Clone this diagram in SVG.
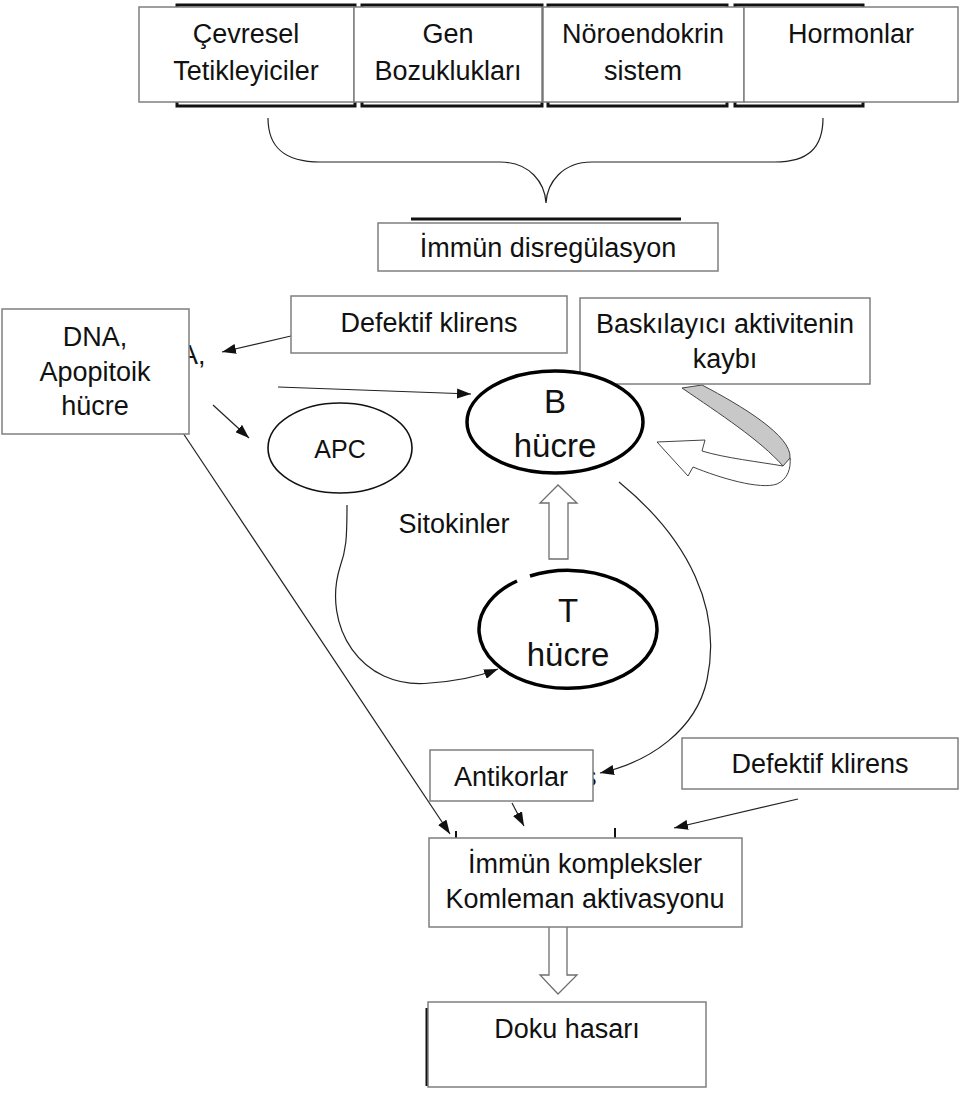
<svg xmlns="http://www.w3.org/2000/svg" width="960" height="1093" viewBox="0 0 960 1093">
<style>
.box{fill:#fff;stroke:#7f7f7f;stroke-width:1.5}
.old{fill:none;stroke:#111;stroke-width:3}
.t{font-family:"Liberation Sans",Arial,sans-serif;font-size:27px;fill:#111;text-anchor:middle}
.big{font-size:33px}
.apc{font-size:25px}
.ln{fill:none;stroke:#222;stroke-width:1.2}
.cell{fill:#fff;stroke:#000;stroke-width:3.5}
.hollow{fill:#fff;stroke:#6f6f6f;stroke-width:1.3}
</style>
<defs>
<marker id="ah" viewBox="0 0 14 10" refX="14" refY="5" markerWidth="14" markerHeight="10" markerUnits="userSpaceOnUse" orient="auto">
<path d="M0,0 L14,5 L0,10 z" fill="#111"/>
</marker>
</defs>
<rect width="960" height="1093" fill="#fff"/>

<!-- remnants of underlying original figure -->
<g id="remnants">
<rect class="old" x="177" y="5" width="178" height="101"/>
<rect class="old" x="362" y="5" width="180" height="101"/>
<rect class="old" x="548" y="5" width="179" height="101"/>
<rect class="old" x="735" y="5" width="128" height="101"/>
<line x1="411" y1="219" x2="681" y2="219" stroke="#111" stroke-width="3"/>
<line x1="427" y1="1008" x2="427" y2="1086" stroke="#111" stroke-width="3"/>
<text class="t" x="180" y="364" style="text-anchor:start">A,</text>
<text class="t" x="583" y="786" style="text-anchor:start">s</text>
<line x1="456" y1="831" x2="456" y2="838" stroke="#111" stroke-width="2"/>
<line x1="615" y1="828" x2="615" y2="838" stroke="#111" stroke-width="2"/>
</g>

<g id="connectors">
<path class="ln" d="M268,118 C268,148 285,162 320,162 L500,162 C530,162 545,183 546,203 C547,183 562,162 592,162 L775,162 C808,162 823,148 823,118"/>
<line class="ln" x1="291" y1="336" x2="222" y2="352" marker-end="url(#ah)"/>
<line class="ln" x1="278" y1="387" x2="471" y2="394" marker-end="url(#ah)"/>
<line class="ln" x1="213" y1="405" x2="249" y2="438" marker-end="url(#ah)"/>
<path class="ln" d="M347,505 C347,540 346,550 340,567 C322,625 360,690 430,683 C458,681 480,676 498,669" marker-end="url(#ah)"/>
<path class="ln" d="M619,482 C690,540 722,610 707,680 C696,730 650,762 600,773" marker-end="url(#ah)"/>
<line class="ln" x1="183" y1="433" x2="450" y2="834" marker-end="url(#ah)"/>
<line class="ln" x1="512" y1="803" x2="524" y2="826" marker-end="url(#ah)"/>
<line class="ln" x1="798" y1="799" x2="674" y2="828" marker-end="url(#ah)"/>
<!-- hollow up arrow (Sitokinler) -->
<polygon class="hollow" points="549,559 549,503 540,503 558,485 577,503 568,503 568,559"/>
<!-- hollow down arrow -->
<polygon class="hollow" points="549,926 549,975 540,975 558,994 577,975 567,975 567,926"/>
<!-- curved feedback arrow -->
<path d="M682,388 L702,385 C742,406 792,436 790,458 C789,468 786,471 783,466 C760,440 720,414 682,388 Z" fill="#c8c8c8" stroke="#444" stroke-width="1"/>
<path d="M783,466 C760,462 725,458 702,451 L705,440 L657,442 L688,476 L693,467 C720,478 760,490 777,484 C788,479 791,468 790,458 Z" fill="#fff" stroke="#444" stroke-width="1"/>
</g>

<g id="n-cevresel"><rect class="box" x="139" y="7" width="215" height="95"/><text class="t" x="246" y="43">Çevresel</text><text class="t" x="246" y="80">Tetikleyiciler</text></g>
<g id="n-gen"><rect class="box" x="354" y="7" width="188" height="95"/><text class="t" x="448" y="43">Gen</text><text class="t" x="448" y="80">Bozuklukları</text></g>
<g id="n-noro"><rect class="box" x="543" y="7" width="201" height="95"/><text class="t" x="643" y="43">Nöroendokrin</text><text class="t" x="643" y="80">sistem</text></g>
<g id="n-hormon"><rect class="box" x="744" y="7" width="214" height="95"/><text class="t" x="851" y="43">Hormonlar</text></g>
<g id="n-immun"><rect class="box" x="378" y="223" width="340" height="48"/><text class="t" x="548" y="257">İmmün disregülasyon</text></g>
<g id="n-dna"><rect class="box" x="2" y="309" width="187" height="125"/><text class="t" x="95" y="346">DNA,</text><text class="t" x="95" y="381">Apopitoik</text><text class="t" x="95" y="415">hücre</text></g>
<g id="n-defektif1"><rect class="box" x="291" y="296" width="276" height="57"/><text class="t" x="429" y="332">Defektif klirens</text></g>
<g id="n-baskilayici"><rect class="box" x="580" y="298" width="290" height="86"/><text class="t" x="725" y="333">Baskılayıcı aktivitenin</text><text class="t" x="725" y="368">kaybı</text></g>
<g id="n-apc"><ellipse cx="340" cy="448" rx="72" ry="45" fill="#fff" stroke="#111" stroke-width="1.6"/><text class="t apc" x="340" y="458">APC</text></g>
<g id="n-bcell"><ellipse class="cell" cx="555" cy="422" rx="88" ry="51"/><text class="t big" x="555" y="413">B</text><text class="t big" x="555" y="457">hücre</text></g>
<g id="n-sitokin"><text class="t" x="454" y="533">Sitokinler</text></g>
<g id="n-tcell"><path d="M530,576 A89,59 0 1,1 517,581" fill="#fff" stroke="#000" stroke-width="3.5"/><text class="t big" x="568" y="622">T</text><text class="t big" x="568" y="666">hücre</text></g>
<g id="n-antikor"><rect class="box" x="430" y="750" width="163" height="51"/><text class="t" x="511" y="786">Antikorlar</text></g>
<g id="n-defektif2"><rect class="box" x="682" y="738" width="276" height="51"/><text class="t" x="820" y="773">Defektif klirens</text></g>
<g id="n-kompleks"><rect class="box" x="429" y="838" width="313" height="89"/><text class="t" x="585" y="873">İmmün kompleksler</text><text class="t" x="585" y="908">Komleman aktivasyonu</text></g>
<g id="n-doku"><rect class="box" x="428" y="1002" width="278" height="85"/><text class="t" x="567" y="1038">Doku hasarı</text></g>
</svg>
